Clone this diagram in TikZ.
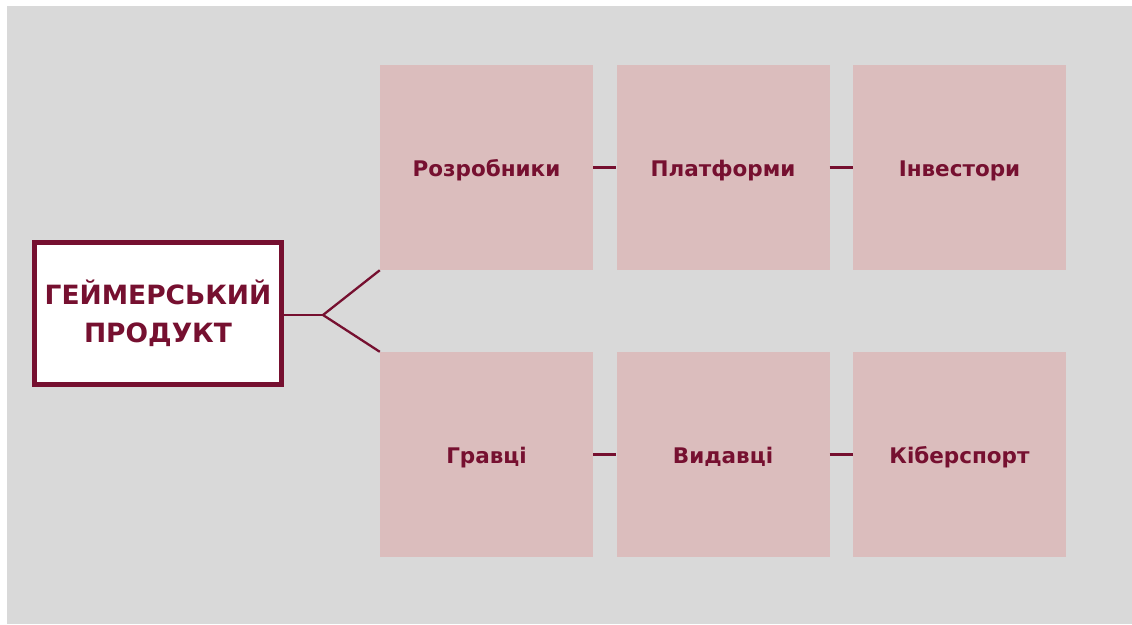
\documentclass[tikz,border=0pt]{standalone}
\usepackage{fontspec}
\setmainfont{DejaVu Sans}
\definecolor{canvas}{HTML}{D9D9D9}
\definecolor{tile}{HTML}{DBBDBD}
\definecolor{wine}{HTML}{761030}
\tikzset{
  tilebox/.style={fill=tile, draw=none, minimum width=213pt, minimum height=205pt,
    inner sep=0pt, text=wine, text height=17pt, text depth=0pt,
    font=\bfseries\fontsize{21.5}{25}\selectfont},
  hubbox/.style={fill=white, draw=wine, line width=4.5pt, minimum width=247pt,
    minimum height=142pt, inner sep=0pt, text=wine, align=center,
    font=\bfseries\fontsize{26.5}{38}\selectfont},
  link/.style={draw=wine, line width=2.3pt}
}
\begin{document}
\begin{tikzpicture}[x=1pt,y=-1pt]
  % page and grey canvas
  \useasboundingbox (0,0) rectangle (1132,624);
  \fill[white] (0,0) rectangle (1132,624);
  \fill[canvas] (7,6) rectangle (1132,624);

  % central node
  \node[hubbox] (hub) at (158,313.5) {ГЕЙМЕРСЬКИЙ\\ПРОДУКТ};

  % upper row
  \node[tilebox] (dev) at (486.5,167.5) {Розробники};
  \node[tilebox] (plat) at (723,167.5) {Платформи};
  \node[tilebox] (inv) at (959.5,167.5) {Інвестори};

  % lower row
  \node[tilebox] (play) at (486.5,454.5) {Гравці};
  \node[tilebox] (pub) at (723,454.5) {Видавці};
  \node[tilebox] (esp) at (959.5,454.5) {Кіберспорт};

  % fork from the central node
  \coordinate (fork) at (323,315);
  \draw[link] (hub.east |- fork) -- (fork);
  \draw[link] (fork) -- (dev.south west);
  \draw[link] (fork) -- (play.north west);

  % links inside the rows
  \draw[link] (dev.east) -- (plat.west);
  \draw[link] (plat.east) -- (inv.west);
  \draw[link] (play.east) -- (pub.west);
  \draw[link] (pub.east) -- (esp.west);
\end{tikzpicture}
\end{document}
